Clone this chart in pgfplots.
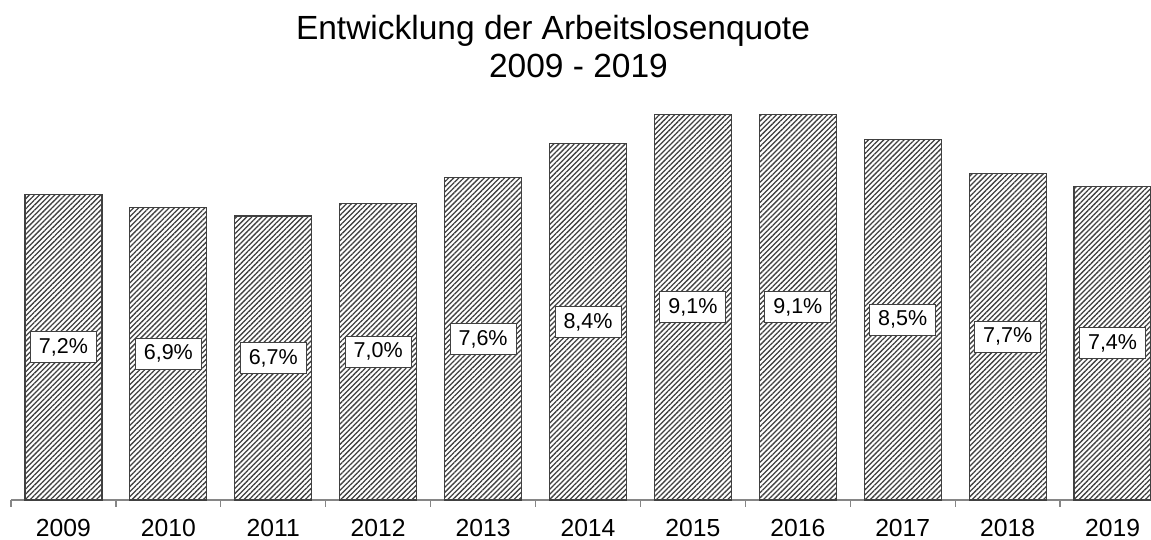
\documentclass[border=0pt]{standalone}
\usepackage{fontspec}
\setmainfont{Liberation Sans}
\usepackage{pgfplots}
\pgfplotsset{compat=1.18}
\usepackage{pgfplotstable}
\usetikzlibrary{patterns.meta}
\definecolor{barline}{HTML}{404040}
\definecolor{axisgray}{HTML}{868686}
\pgfplotstableread{
x v
0 7.2
1 6.9
2 6.7
3 7.0
4 7.6
5 8.4
6 9.1
7 9.1
8 8.5
9 7.7
10 7.4
}\datatable
\begin{document}
\begin{tikzpicture}
\useasboundingbox (0,0) rectangle (1151pt,540pt);
\node[anchor=base, inner sep=0pt, font=\fontsize{33.5}{40}\selectfont] at (553pt,500pt) {Entwicklung der Arbeitslosenquote};
\node[anchor=base, inner sep=0pt, font=\fontsize{33.5}{40}\selectfont] at (578.5pt,462pt) {2009 - 2019};
\begin{axis}[
  at={(11pt,40pt)}, anchor=south west,
  scale only axis, width=1154pt, height=424pt,
  xmin=-0.5, xmax=10.5, ymin=0, ymax=10,
  axis x line*=bottom, axis y line=none,
  axis line style={axisgray, line width=1.3pt},
  xtick={0,1,2,3,4,5,6,7,8,9,10},
  xticklabels={2009,2010,2011,2012,2013,2014,2015,2016,2017,2018,2019},
  major tick length=0pt,
  minor xtick={-0.5,0.5,...,10.5},
  minor tick length=7pt,
  tick align=outside,
  minor tick style={axisgray, line width=1.3pt},
  xticklabel style={font=\fontsize{24.7}{28}\selectfont, yshift=-16pt},
  /pgf/number format/assume math mode=true,
  clip=false,
]
\addplot[ybar, bar width=77pt, draw=barline, line width=1.2pt,
  pattern={Lines[angle=45,distance=3.6pt,line width=1.3pt]}, pattern color=black!75]
  table[x=x,y=v]{\datatable};
\addplot[only marks, mark=*, mark size=0pt, mark options={draw=none,fill=none},
  point meta=explicit,
  nodes near coords={\pgfmathprintnumber[fixed,fixed zerofill,precision=1,use comma]{\pgfplotspointmeta}\%},
  nodes near coords align={anchor=center},
  every node near coord/.append style={anchor=center, draw=barline, fill=white, line width=1pt,
    text=black, inner xsep=8.5pt, minimum height=31pt, font=\fontsize{21.5}{24}\selectfont}]
  table[x=x, y expr=\thisrow{v}/2, meta=v]{\datatable};
\end{axis}
\end{tikzpicture}
\end{document}
